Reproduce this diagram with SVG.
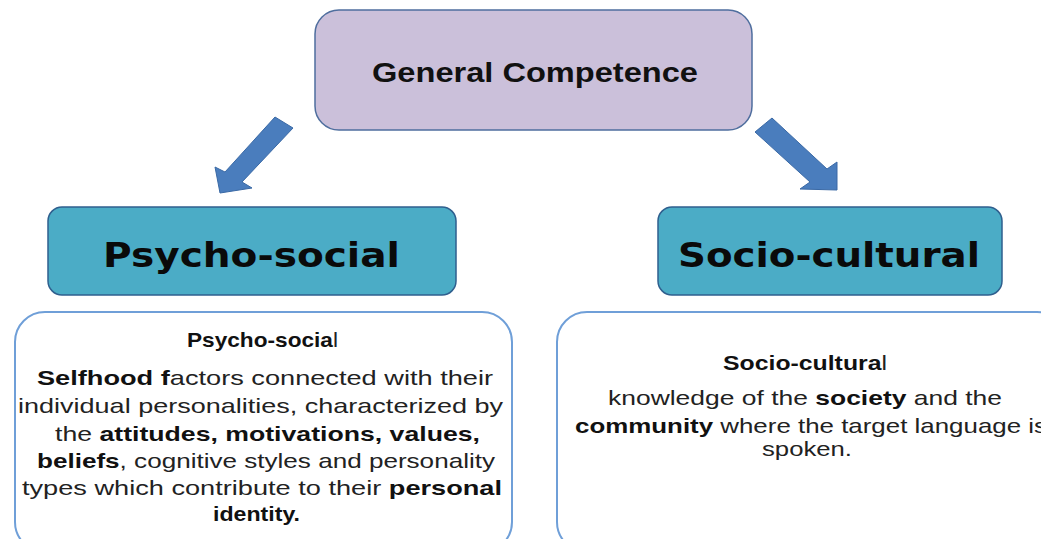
<svg xmlns="http://www.w3.org/2000/svg" width="1041" height="539" viewBox="0 0 1041 539">
<style>
.top{fill:#cbc0da;stroke:#4f6e9e;stroke-width:1.5}
.mid{fill:#4bacc6;stroke:#2f5f8e;stroke-width:1.5}
.desc{fill:#ffffff;stroke:#6f9fd8;stroke-width:2}
.arrow{fill:#4a7dbd;stroke:#3a69a5;stroke-width:1}
.t1{font-family:"Liberation Sans",Arial,sans-serif;font-weight:bold;font-size:28px;fill:#111}
.t2{font-family:"DejaVu Sans",Verdana,sans-serif;font-weight:bold;font-size:34px;fill:#0a0a0a}
.t3{font-family:"Liberation Sans",Arial,sans-serif;font-size:21px;fill:#222}
.b{font-weight:bold;fill:#111}
</style>
<rect width="1041" height="539" fill="#ffffff"/>
<g id="connectors">
<polygon class="arrow" points="275,117 293,128 242,182 252,188 220,193 215,167 225,172"/>
<polygon class="arrow" points="772,118 827,169 837,162 837,190 800,189 810,182 755,132"/>
</g>
<g id="general-competence">
<rect class="top" x="315" y="10" width="437" height="120" rx="24"/>
<text class="t1" x="372" y="82" textLength="326" lengthAdjust="spacingAndGlyphs">General Competence</text>
</g>
<g id="psycho-social">
<rect class="mid" x="48" y="207" width="408" height="88" rx="14"/>
<text class="t2" x="103" y="267" textLength="297" lengthAdjust="spacingAndGlyphs">Psycho-social</text>
</g>
<g id="socio-cultural">
<rect class="mid" x="658" y="207" width="344" height="88" rx="14"/>
<text class="t2" x="678" y="267" textLength="302" lengthAdjust="spacingAndGlyphs">Socio-cultural</text>
</g>
<g id="psycho-social-desc">
<rect class="desc" x="15" y="312" width="497" height="240" rx="30"/>
<text class="t3" x="187" y="347" textLength="151" lengthAdjust="spacingAndGlyphs"><tspan class="b">Psycho-socia</tspan>l</text>
<text class="t3" x="37" y="385" textLength="456" lengthAdjust="spacingAndGlyphs"><tspan class="b">Selfhood f</tspan>actors connected with their</text>
<text class="t3" x="18" y="413" textLength="485" lengthAdjust="spacingAndGlyphs">individual personalities, characterized by</text>
<text class="t3" x="55" y="441" textLength="425" lengthAdjust="spacingAndGlyphs">the <tspan class="b">attitudes, motivations, values,</tspan></text>
<text class="t3" x="37" y="468" textLength="458" lengthAdjust="spacingAndGlyphs"><tspan class="b">beliefs</tspan>, cognitive styles and personality</text>
<text class="t3" x="22" y="495" textLength="480" lengthAdjust="spacingAndGlyphs">types which contribute to their <tspan class="b">personal</tspan></text>
<text class="t3" x="213" y="521" textLength="87" lengthAdjust="spacingAndGlyphs"><tspan class="b">identity.</tspan></text>
</g>
<g id="socio-cultural-desc">
<rect class="desc" x="557" y="312" width="510" height="240" rx="30"/>
<text class="t3" x="723" y="370" textLength="164" lengthAdjust="spacingAndGlyphs"><tspan class="b">Socio-cultura</tspan>l</text>
<text class="t3" x="608" y="405" textLength="394" lengthAdjust="spacingAndGlyphs">knowledge of the <tspan class="b">society</tspan> and the</text>
<text class="t3" x="575" y="433" textLength="472" lengthAdjust="spacingAndGlyphs"><tspan class="b">community</tspan> where the target language is</text>
<text class="t3" x="762" y="456" textLength="90" lengthAdjust="spacingAndGlyphs">spoken.</text>
</g>
</svg>
